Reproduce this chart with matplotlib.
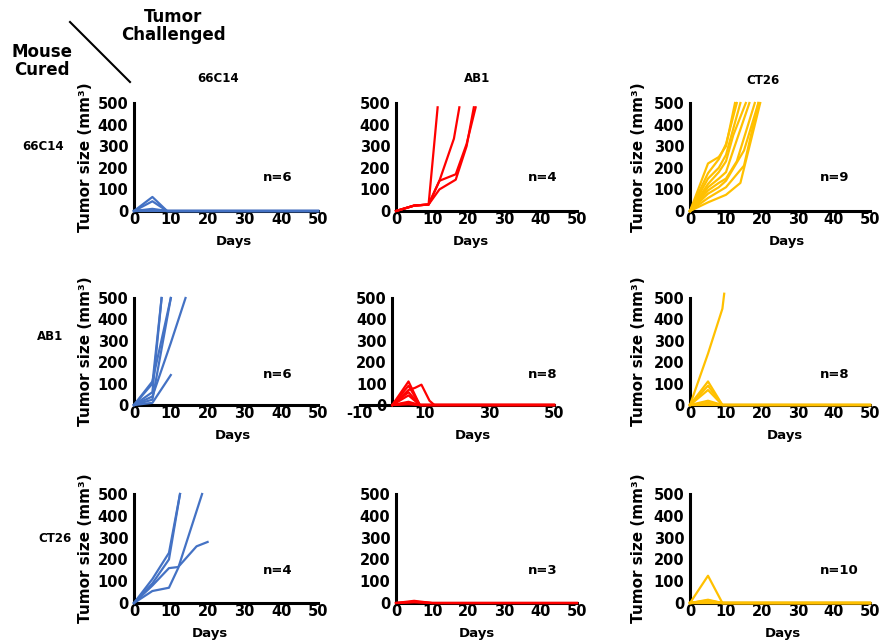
import matplotlib
matplotlib.use("Agg")
import matplotlib.pyplot as plt
from matplotlib.lines import Line2D

# rows = mouse cured of, columns = tumor challenged with
tumors = ["66C14", "AB1", "CT26"]
colors = ["#4472C4", "#FF0000", "#FFC000"]
n_mice = [[6, 4, 9], [6, 8, 8], [4, 3, 10]]

# 66C14-cured mice
days_66_66 = [[0, 5, 9, 50]] * 6
size_66_66 = [[0, 65, 0, 0], [0, 45, 0, 0], [0, 10, 0, 0], [0, 5, 0, 0], [0, 3, 0, 0], [0, 0, 0, 0]]
days_66_ab1 = [[0, 5, 9, 11.5], [0, 5, 9, 12, 16, 17.5],
               [0, 5, 9, 12, 16.5, 19.5, 21.5], [0, 5, 9, 12, 16.5, 19.5, 22]]
size_66_ab1 = [[0, 25, 30, 480], [0, 25, 30, 140, 335, 480],
               [0, 25, 30, 100, 145, 300, 480], [0, 25, 30, 140, 170, 310, 480]]
days_66_ct26 = [[0, 5, 8, 10, 12.5], [0, 5, 8, 10, 13], [0, 5, 8, 10, 14],
                [0, 5, 8, 10, 12, 15.5], [0, 5, 8, 10, 12, 16.5], [0, 5, 8, 10, 13, 18],
                [0, 5, 8, 10, 15, 19], [0, 5, 8, 10, 15, 19], [0, 5, 10, 14, 19.5]]
size_66_ct26 = [[0, 220, 250, 300, 500], [0, 175, 240, 310, 500], [0, 150, 200, 260, 500],
                [0, 125, 180, 230, 350, 500], [0, 110, 150, 180, 280, 500], [0, 95, 130, 150, 230, 500],
                [0, 80, 110, 140, 280, 500], [0, 60, 90, 110, 210, 500], [0, 40, 75, 130, 500]]

# AB1-cured mice
days_ab1_66 = [[0, 5, 7.5], [0, 5, 10], [0, 5, 7.5], [0, 5, 10, 14], [0, 5, 10], [0, 5, 10]]
size_ab1_66 = [[0, 100, 500], [0, 110, 500], [0, 60, 500], [0, 40, 290, 500], [0, 10, 140], [0, 25, 500]]
days_ab1_ab1 = [[0, 5, 8.5, 50], [0, 5, 8.5, 50], [0, 5, 7, 9, 11.5, 13, 50], [0, 5, 8.5, 50],
                [0, 5, 8.5, 50], [0, 5, 8.5, 50], [0, 5, 8.5, 50], [0, 5, 8.5, 50]]
size_ab1_ab1 = [[0, 110, 0, 0], [0, 90, 0, 0], [0, 70, 80, 95, 20, 0, 0], [0, 60, 0, 0],
                [0, 45, 0, 0], [0, 15, 0, 0], [0, 8, 0, 0], [0, 3, 0, 0]]
days_ab1_ct26 = [[0, 5, 9, 9.5]] + [[0, 5, 9, 50]] * 7
size_ab1_ct26 = [[0, 240, 450, 520], [0, 110, 0, 0], [0, 90, 0, 0], [0, 70, 0, 0],
                 [0, 20, 0, 0], [0, 10, 0, 0], [0, 5, 0, 0], [0, 0, 0, 0]]

# CT26-cured mice
days_ct26_66 = [[0, 5, 9.5, 12.5], [0, 5, 9.5, 12, 17, 20], [0, 5, 9.5, 12, 18.5], [0, 5, 9.5, 12.5]]
size_ct26_66 = [[0, 110, 230, 500], [0, 80, 160, 165, 260, 280], [0, 55, 70, 160, 500], [0, 90, 200, 500]]
days_ct26_ab1 = [[0, 5, 10, 50]] * 3
size_ct26_ab1 = [[0, 10, 0, 0], [0, 6, 0, 0], [0, 3, 0, 0]]
days_ct26_ct26 = [[0, 5, 9, 50]] * 10
size_ct26_ct26 = [[0, 125, 0, 0], [0, 15, 0, 0], [0, 12, 0, 0], [0, 8, 0, 0], [0, 5, 0, 0],
                  [0, 4, 0, 0], [0, 3, 0, 0], [0, 2, 0, 0], [0, 0, 0, 0], [0, 0, 0, 0]]

panels = [[(days_66_66, size_66_66), (days_66_ab1, size_66_ab1), (days_66_ct26, size_66_ct26)],
          [(days_ab1_66, size_ab1_66), (days_ab1_ab1, size_ab1_ab1), (days_ab1_ct26, size_ab1_ct26)],
          [(days_ct26_66, size_ct26_66), (days_ct26_ab1, size_ct26_ab1), (days_ct26_ct26, size_ct26_ct26)]]

W, H = 887, 644
plt.rcParams['font.family'] = ['DejaVu Sans']
plt.rcParams['font.weight'] = 'bold'
plt.rcParams['axes.labelweight'] = 'bold'
plt.rcParams['axes.unicode_minus'] = False

fig = plt.figure(figsize=(W / 100, H / 100), dpi=100)

def fx(x):
    return x / W

def fy(y):
    return 1 - y / H

# pixel extents of the axes
col_x = [(134, 318), (396, 577), (690, 870)]
row_y = [(103, 211), (298, 405), (494, 603)]
days_x = [[234, 471, 787], [233, 473, 785], [210, 477, 783]]
ylab_x = [85.5, None, 638.5]
n_x = [263, 528, 820]
n_y = [177, 375, 571]

for r in range(3):
    for c in range(3):
        x0, x1 = col_x[c]
        y0, y1 = row_y[r]
        odd = (r == 1 and c == 1)  # this one runs from -10
        if odd:
            x0, x1 = 360, 554
        ax = fig.add_axes([fx(x0), fy(y1), (x1 - x0) / W, (y1 - y0) / H])
        days, sizes = panels[r][c]
        for d, s in zip(days, sizes):
            ax.plot(d, s, color=colors[c], lw=1.6, clip_on=False, zorder=3)
        ax.set_ylim(0, 500)
        ax.set_yticks(range(0, 501, 100))
        if odd:
            ax.set_xlim(-10, 50)
            ax.set_xticks([-10, 10, 30, 50])
            ax.spines['left'].set_position(('data', 0))
        else:
            ax.set_xlim(0, 50)
            ax.set_xticks(range(0, 51, 10))
        for side in ['top', 'right']:
            ax.spines[side].set_visible(False)
        for side in ['left', 'bottom']:
            ax.spines[side].set_linewidth(2.2)
            ax.spines[side].set_color('black')
        ax.tick_params(length=0, labelsize=10.5)
        ax.tick_params(axis='x', pad=1)
        ax.tick_params(axis='y', pad=4)
        ax.patch.set_alpha(0)

        ax.set_xlabel("Days", fontsize=9.5)
        ax.xaxis.set_label_coords((days_x[r][c] - x0) / (x1 - x0), -30 / (y1 - y0))
        ax.xaxis.label.set_va('center')
        if ylab_x[c] is not None:
            ax.set_ylabel("Tumor size (mm³)", fontsize=11)
            ax.yaxis.set_label_coords((ylab_x[c] - x0) / (x1 - x0), 0.5)
            ax.yaxis.label.set_va('center')

        fig.text(fx(n_x[c]), fy(n_y[r]), "n=%d" % n_mice[r][c], fontsize=9.5,
                 ha='left', va='center')

# column and row headers
for c, (tx, ty) in enumerate([(218, 78), (477, 79), (763, 81)]):
    fig.text(fx(tx), fy(ty), tumors[c], fontsize=8.5, ha='center', va='center')
for r, (tx, ty) in enumerate([(43, 147), (50, 337), (55, 538)]):
    fig.text(fx(tx), fy(ty), tumors[r], fontsize=8.5, ha='center', va='center')

fig.text(fx(173), fy(26), "Tumor\nChallenged", fontsize=12, ha='center', va='center',
         linespacing=1.05)
fig.text(fx(42), fy(61), "Mouse\nCured", fontsize=12, ha='center', va='center',
         linespacing=1.05)
fig.add_artist(Line2D([fx(70), fx(130)], [fy(22), fy(82)], color='black', lw=1.5))

fig.savefig("out.png", dpi=100)
